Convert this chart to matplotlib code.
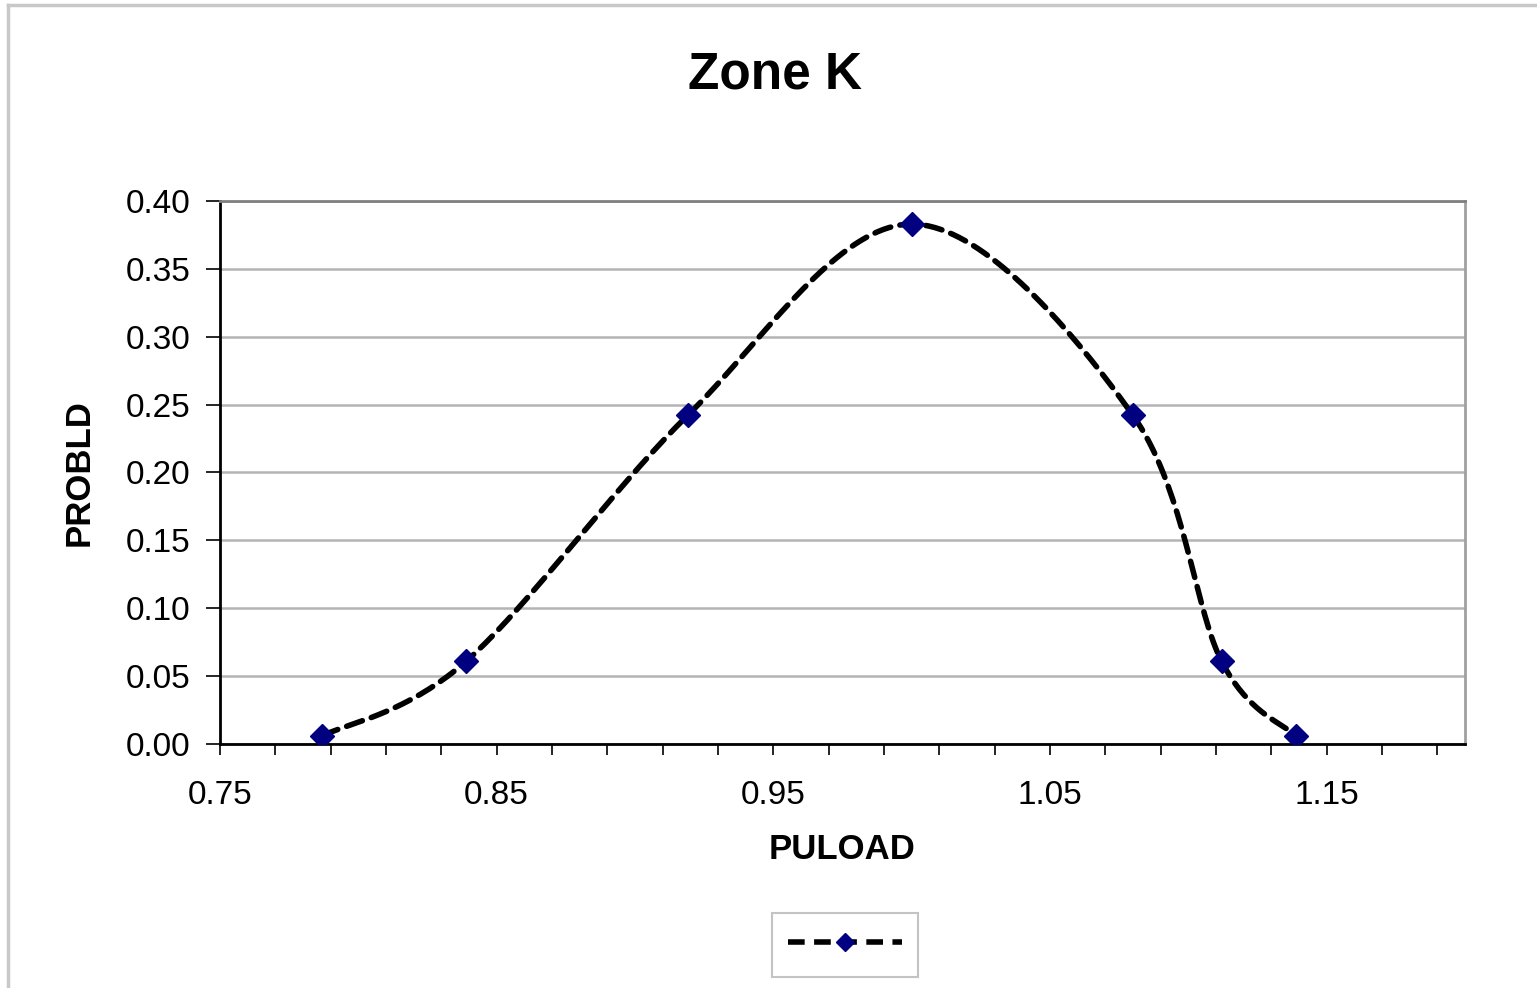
import matplotlib
matplotlib.use("Agg")
import matplotlib.pyplot as plt
import numpy as np
from matplotlib.lines import Line2D

# values
puload = [0.787, 0.839, 0.919, 1.000, 1.080, 1.112, 1.139]
probld = [0.006, 0.061, 0.242, 0.383, 0.242, 0.061, 0.006]

title = "Zone K"
xlabel = "PULOAD"
ylabel = "PROBLD"
xticks = [0.75, 0.85, 0.95, 1.05, 1.15]
yticks = [0.00, 0.05, 0.10, 0.15, 0.20, 0.25, 0.30, 0.35, 0.40]

plt.rcParams['font.family'] = ['Liberation Sans', 'DejaVu Sans']


def smooth(xs, ys, n=40):
    # excel style smoothed line: cubic bezier with catmull-rom control points
    px = np.array(xs)
    py = np.array(ys)
    k = len(px)
    outx = []
    outy = []
    t = np.linspace(0, 1, n)
    for i in range(k - 1):
        i0 = max(i - 1, 0)
        i3 = min(i + 2, k - 1)
        p1 = np.array([px[i], py[i]])
        p2 = np.array([px[i + 1], py[i + 1]])
        p0 = np.array([px[i0], py[i0]])
        p3 = np.array([px[i3], py[i3]])
        c1 = p1 + (p2 - p0) / 6.0
        c2 = p2 - (p3 - p1) / 6.0
        b = ((1 - t) ** 3)[:, None] * p1 + (3 * (1 - t) ** 2 * t)[:, None] * c1 \
            + (3 * (1 - t) * t ** 2)[:, None] * c2 + (t ** 3)[:, None] * p2
        outx.extend(b[:, 0])
        outy.extend(b[:, 1])
    return outx, outy


fig = plt.figure(figsize=(15.37, 9.88), dpi=100)
ax = fig.add_axes([220 / 1537, 1 - 744 / 988, 1245 / 1537, 543 / 988])

# outer chart border (top and left visible)
fig.add_artist(Line2D([8 / 1537, 1.0], [1 - 5 / 988, 1 - 5 / 988], color='#c8c8c8', lw=2.5,
                      transform=fig.transFigure))
fig.add_artist(Line2D([8 / 1537, 8 / 1537], [0.0, 1 - 5 / 988], color='#c8c8c8', lw=2.5,
                      transform=fig.transFigure))

sx, sy = smooth(puload, probld)
ax.plot(sx, sy, color='black', lw=4, dashes=(3.0, 1.7), dash_capstyle='round', zorder=3)
ax.plot(puload, probld, ls='none', marker='D', ms=12, color='#000080', zorder=4)

ax.set_xlim(0.75, 1.20)
ax.set_ylim(0, 0.40)
ax.set_xticks(xticks)
ax.set_xticks(np.arange(0.75, 1.2001, 0.02), minor=True)
ax.set_xticklabels(["%.2f" % v for v in xticks])
ax.set_yticks(yticks)
ax.set_yticklabels(["%.2f" % v for v in yticks])

ax.grid(axis='y', color='#b4b4b4', lw=1.8)
ax.set_axisbelow(True)

ax.tick_params(axis='both', labelsize=24, colors='black', width=1.2)
ax.tick_params(axis='y', length=10, pad=11)
ax.tick_params(axis='x', which='both', length=8, width=1.2, pad=18)

ax.spines['left'].set_color('black')
ax.spines['bottom'].set_color('black')
ax.spines['left'].set_linewidth(2)
ax.spines['bottom'].set_linewidth(2)
ax.spines['top'].set_color('#808080')
ax.spines['right'].set_color('#a0a0a0')
ax.spines['top'].set_linewidth(2)
ax.spines['right'].set_linewidth(2)

ax.set_xlabel(xlabel, fontsize=25, fontweight='bold', labelpad=16)
ax.set_ylabel(ylabel, fontsize=25, fontweight='bold', labelpad=22)
fig.text(775 / 1537, 1 - 75 / 988, title, fontsize=37, fontweight='bold', ha='center', va='center')

h = Line2D([], [], color='black', lw=4, dashes=(3.0, 1.7), marker='D', ms=9,
           markerfacecolor='#000080', markeredgecolor='#000080')
leg = fig.legend([h], [''], loc='center', bbox_to_anchor=(845 / 1537, 1 - 945 / 988),
                 handlelength=3.4, handletextpad=0, fontsize=24, fancybox=False,
                 borderpad=0.5, borderaxespad=0)
leg.get_frame().set_edgecolor('#b4b4b4')
leg.get_frame().set_linewidth(1.5)

fig.savefig("out.png", dpi=100)
